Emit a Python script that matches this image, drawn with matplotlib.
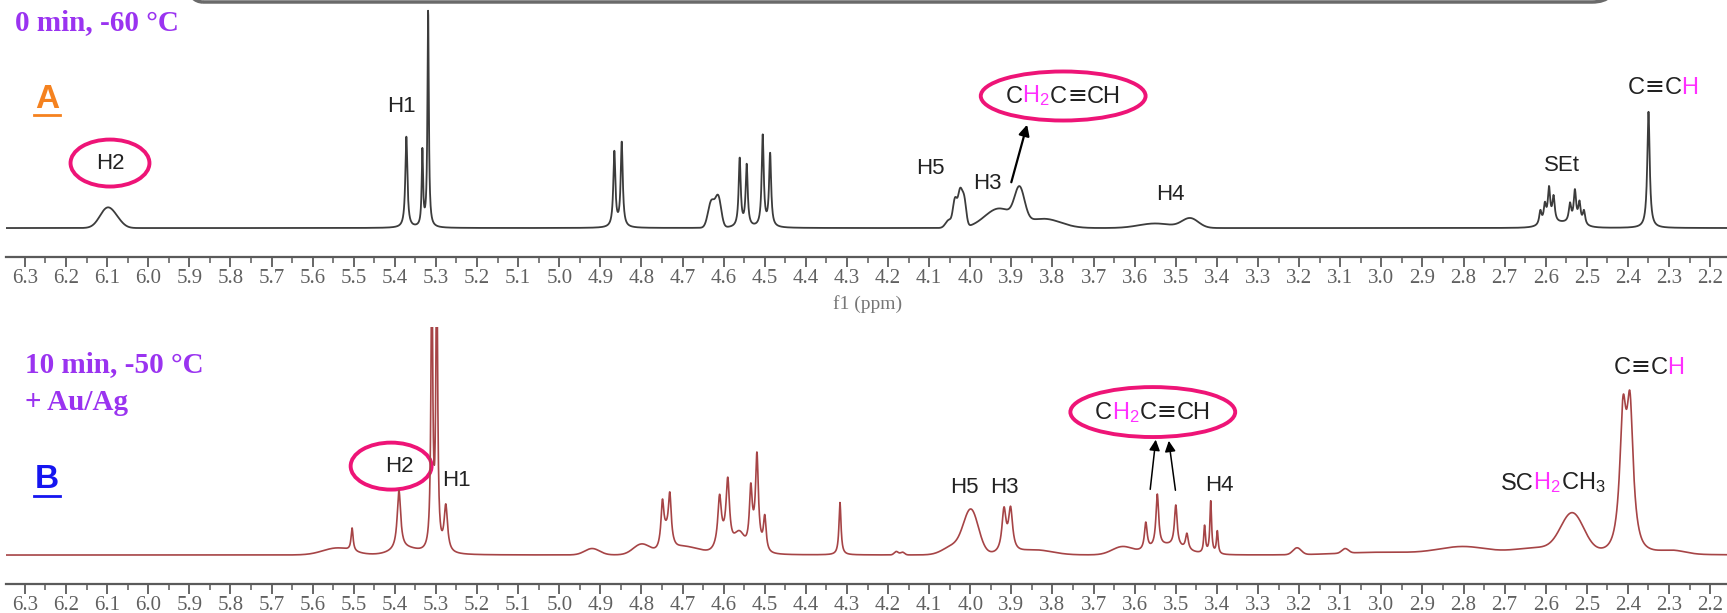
import numpy as np
import matplotlib
matplotlib.use("Agg")
import matplotlib.pyplot as plt
from matplotlib.patches import Ellipse, FancyBboxPatch
from matplotlib.lines import Line2D
from matplotlib.offsetbox import TextArea, HPacker, AnnotationBbox
from matplotlib.ticker import MultipleLocator, FormatStrFormatter

plt.rcParams['mathtext.fontset'] = 'custom'
plt.rcParams['mathtext.rm'] = 'Liberation Sans'
plt.rcParams['mathtext.it'] = 'Liberation Sans:italic'

# ---- peaks read off spectrum A (0 min, -60 C) ----
# sharp lines: centre (ppm), height, half width (ppm)
a_sharp_ppm = [5.372, 5.333, 5.319, 4.866, 4.848, 4.561, 4.544, 4.505, 4.487,
               2.613, 2.602, 2.592, 2.581, 2.541, 2.529, 2.518, 2.507, 2.350]
a_sharp_h = [0.40, 0.33, 0.95, 0.33, 0.37, 0.30, 0.27, 0.40, 0.32,
             0.06, 0.08, 0.15, 0.11, 0.08, 0.14, 0.09, 0.06, 0.51]
a_sharp_w = [0.003, 0.002, 0.002, 0.003, 0.003, 0.003, 0.003, 0.003, 0.003,
             0.0035, 0.0035, 0.0035, 0.0035, 0.0035, 0.0035, 0.0035, 0.0035, 0.0035]
# broad humps: centre, height, sigma
a_broad_ppm = [6.100, 6.075, 4.630, 4.613, 4.052, 4.037, 4.025, 4.015,
               3.930, 3.880, 3.820, 3.550, 3.465, 2.560]
a_broad_h = [0.085, 0.02, 0.115, 0.13, 0.035, 0.12, 0.15, 0.12,
             0.085, 0.14, 0.04, 0.02, 0.042, 0.02]
a_broad_w = [0.018, 0.015, 0.008, 0.007, 0.008, 0.005, 0.005, 0.005,
             0.035, 0.012, 0.04, 0.04, 0.02, 0.035]

b_sharp_ppm = [5.504, 5.390, 5.310, 5.298, 5.276, 4.749, 4.731, 4.610, 4.590,
               4.534, 4.519, 4.500, 4.317, 3.918, 3.902, 3.573, 3.545, 3.500,
               3.473, 3.430, 3.415, 3.399, 2.412, 2.395]
b_sharp_h = [0.10, 0.26, 1.3, 1.3, 0.20, 0.17, 0.195, 0.205, 0.28,
             0.235, 0.375, 0.15, 0.23, 0.185, 0.185, 0.12, 0.23, 0.18,
             0.07, 0.12, 0.23, 0.10, 0.50, 0.52]
b_sharp_w = [0.003, 0.005, 0.0025, 0.0025, 0.005, 0.004, 0.004, 0.005, 0.005,
             0.004, 0.004, 0.004, 0.003, 0.006, 0.006, 0.004, 0.004, 0.004,
             0.004, 0.0025, 0.0025, 0.0025, 0.009, 0.009]
b_broad_ppm = [5.540, 5.375, 4.920, 4.800, 4.740, 4.700, 4.600, 4.562, 4.525,
               4.180, 4.165, 4.040, 3.998, 3.840, 3.630, 3.520, 3.205, 3.088,
               3.000, 2.800, 2.620, 2.535, 2.403, 2.290]
b_broad_h = [0.03, 0.025, 0.028, 0.045, 0.07, 0.035, 0.05, 0.085, 0.06,
             0.015, 0.012, 0.04, 0.19, 0.02, 0.035, 0.04, 0.03, 0.02,
             0.012, 0.035, 0.03, 0.17, 0.10, 0.015]
b_broad_w = [0.035, 0.03, 0.018, 0.02, 0.01, 0.04, 0.015, 0.012, 0.012,
             0.005, 0.005, 0.025, 0.018, 0.04, 0.025, 0.04, 0.01, 0.008,
             0.1, 0.06, 0.06, 0.028, 0.015, 0.03]

# ---- plain peak labels: text, ppm, height ----
a_labels = ["H2", "H1", "H5", "H3", "H4", "SEt"]
a_label_ppm = [6.093, 5.383, 4.098, 3.958, 3.512, 2.561]
a_label_y = [0.285, 0.535, 0.263, 0.197, 0.145, 0.276]

b_labels = ["H2", "H1", "H5", "H3", "H4"]
b_label_ppm = [5.388, 5.249, 4.014, 3.916, 3.395]
b_label_y = [0.39, 0.329, 0.298, 0.294, 0.307]

tick_step = 0.1

INK = '#222222'
PINK = '#ee1477'
MAGENTA = '#ff30ff'
PURPLE = '#9a33f0'
AXIS = '#5a5a5a'
SANS = ['Liberation Sans', 'DejaVu Sans']
SERIF = ['Liberation Serif', 'DejaVu Serif']
TRIPLE = "\u2261"

W, H = 1727, 613
ppm = np.linspace(6.40, 2.10, 9000)


def fx(px):
    return px / W


def fy(py):
    return 1 - py / H


def spectrum(sp, sh, sw, bp, bh, bw):
    y = np.zeros_like(ppm)
    for c, h, w in zip(sp, sh, sw):
        y += h / (1 + ((ppm - c) / w) ** 2)
    for c, h, s in zip(bp, bh, bw):
        y += h * np.exp(-0.5 * ((ppm - c) / s) ** 2)
    return y


def chem(ax, x, y, parts, size=17):
    boxes = []
    for t, c in parts:
        fam = ['DejaVu Sans'] if t == TRIPLE else SANS
        boxes.append(TextArea(t, textprops=dict(color=c, fontsize=size, family=fam)))
    pack = HPacker(children=boxes, align="baseline", pad=0, sep=0)
    ab = AnnotationBbox(pack, (x, y), xycoords="data", frameon=False,
                        box_alignment=(0.5, 0.5), pad=0)
    ax.add_artist(ab)


def ring(ax, x, y, w, h):
    ax.add_patch(Ellipse((x, y), w, h, fill=False, ec=PINK, lw=2.8, clip_on=False))


def setup(ax):
    ax.set_xlim(6.346, 2.159)
    ax.set_ylim(-0.127, 1.0)
    for s in ['left', 'right', 'top']:
        ax.spines[s].set_visible(False)
    ax.spines['bottom'].set_color(AXIS)
    ax.spines['bottom'].set_linewidth(1.6)
    ax.set_yticks([])
    ax.xaxis.set_major_locator(MultipleLocator(tick_step))
    ax.xaxis.set_minor_locator(MultipleLocator(tick_step / 2))
    ax.xaxis.set_major_formatter(FormatStrFormatter('%.1f'))
    ax.tick_params(axis='x', which='major', length=7, width=1.3, color=AXIS,
                   direction='out', pad=1.5, labelsize=15, labelcolor='#606060')
    ax.tick_params(axis='x', which='minor', length=4, width=1.1, color=AXIS,
                   direction='out')
    for lab in ax.get_xticklabels():
        lab.set_family(SERIF)


fig = plt.figure(figsize=(W / 100, H / 100), dpi=100)
ax_a = fig.add_axes([fx(6), 1 - 257 / H, 1 - fx(6), 257 / H])
ax_b = fig.add_axes([fx(6), 1 - 584 / H, 1 - fx(6), 257 / H])

# spectrum A
setup(ax_a)
ax_a.plot(ppm, spectrum(a_sharp_ppm, a_sharp_h, a_sharp_w,
                        a_broad_ppm, a_broad_h, a_broad_w),
          color='#3c3c3c', lw=1.3)
for t, x, y in zip(a_labels, a_label_ppm, a_label_y):
    ax_a.text(x, y, t, ha='center', va='center', fontsize=16, color=INK, family=SANS)
ring(ax_a, 6.093, 0.285, 0.192, 0.206)
chem(ax_a, 3.774, 0.579, [("C", INK), ("H$_2$", MAGENTA), ("C", INK), (TRIPLE, INK), ("CH", INK)])
ring(ax_a, 3.774, 0.579, 0.401, 0.215)
ax_a.annotate("", xy=(3.860, 0.465), xytext=(3.902, 0.189),
              arrowprops=dict(arrowstyle='-|>', color='black', lw=1.6, mutation_scale=16))
chem(ax_a, 2.315, 0.618, [("C", INK), (TRIPLE, INK), ("C", INK), ("H", MAGENTA)])

# spectrum B
setup(ax_b)
ax_b.plot(ppm, spectrum(b_sharp_ppm, b_sharp_h, b_sharp_w,
                        b_broad_ppm, b_broad_h, b_broad_w),
          color='#a64446', lw=1.2)
for t, x, y in zip(b_labels, b_label_ppm, b_label_y):
    ax_b.text(x, y, t, ha='center', va='center', fontsize=16, color=INK, family=SANS)
ring(ax_b, 5.409, 0.39, 0.197, 0.206)
chem(ax_b, 3.556, 0.627, [("C", INK), ("H$_2$", MAGENTA), ("C", INK), (TRIPLE, INK), ("CH", INK)])
ring(ax_b, 3.556, 0.627, 0.401, 0.219)
for tail, head in [((3.563, 0.276), (3.548, 0.518)), ((3.500, 0.272), (3.518, 0.513))]:
    ax_b.annotate("", xy=head, xytext=tail,
                  arrowprops=dict(arrowstyle='-|>', color='black', lw=1.1, mutation_scale=16))
chem(ax_b, 2.582, 0.316, [("SC", INK), ("H$_2$", MAGENTA), ("CH$_3$", INK)])
chem(ax_b, 2.349, 0.825, [("C", INK), (TRIPLE, INK), ("C", INK), ("H", MAGENTA)])

# panel captions
fig.text(fx(15), fy(23), "0 min, -60 \u00b0C", ha='left', va='center', fontsize=21,
         weight='bold', color=PURPLE, family=SERIF)
fig.text(fx(25), fy(365), "10 min, -50 \u00b0C", ha='left', va='center', fontsize=21,
         weight='bold', color=PURPLE, family=SERIF)
fig.text(fx(25), fy(402), "+ Au/Ag", ha='left', va='center', fontsize=21,
         weight='bold', color=PURPLE, family=SERIF)
fig.text(fx(868), fy(304), "f1 (ppm)", ha='center', va='center', fontsize=14,
         color='#777777', family=SERIF)

for letter, col, yc, yu in [("A", '#f5821f', 100, 115), ("B", '#1515f0', 480, 496)]:
    fig.text(fx(47), fy(yc), letter, ha='center', va='center', fontsize=24,
             weight='bold', color=col, family=SANS)
    fig.add_artist(Line2D([fx(34), fx(60)], [fy(yu), fy(yu)], color=col, lw=2,
                          transform=fig.transFigure))

# edge of the rounded frame above the figure
fig.add_artist(FancyBboxPatch((1.78, 6.11), 14.39, 1.0,
                              boxstyle="round,pad=0,rounding_size=0.25",
                              transform=fig.dpi_scale_trans, fill=False,
                              ec='#6a6a6a', lw=2.5, clip_on=False))

fig.savefig("out.png", dpi=100)
